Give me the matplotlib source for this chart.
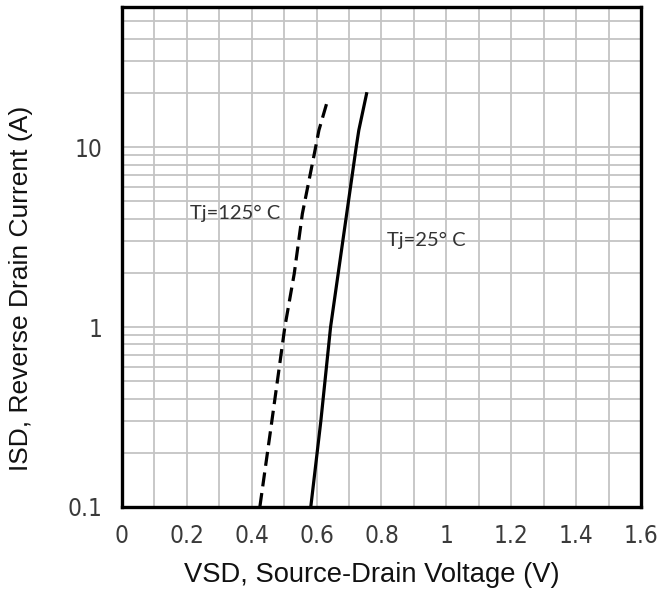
import matplotlib
matplotlib.use("Agg")
import matplotlib.pyplot as plt
from matplotlib.ticker import FixedLocator, LogLocator, NullFormatter

# Curve data
VSD_25C = [0.582, 0.613, 0.643, 0.681, 0.722, 0.730, 0.755]
ISD_25C = [0.1, 0.30, 1.0, 3.03, 10.0, 12.4, 20.2]

VSD_125C = [0.425, 0.462, 0.502, 0.531, 0.556, 0.597, 0.607, 0.633]
ISD_125C = [0.1, 0.30, 1.0, 1.98, 4.26, 10.0, 12.4, 18.0]

X_TICKS = [0, 0.2, 0.4, 0.6, 0.8, 1.0, 1.2, 1.4, 1.6]
X_TICK_LABELS = ["0", "0.2", "0.4", "0.6", "0.8", "1", "1.2", "1.4", "1.6"]
Y_TICKS = [0.1, 1, 10]
Y_TICK_LABELS = ["0.1", "1", "10"]

TICK_FONT = ["DejaVu Sans"]
LABEL_FONT = ["Liberation Sans", "DejaVu Sans"]
NOTE_FONT = ["Lato", "DejaVu Sans"]


def main():
    fig = plt.figure(figsize=(6.71, 5.95), dpi=100)
    ax = fig.add_axes([0.1818, 0.148, 0.7735, 0.840])

    ax.set_yscale("log")
    ax.set_xlim(0, 1.6)
    ax.set_ylim(0.1, 60)

    # grid: every 0.1 V and log minor lines
    ax.xaxis.set_major_locator(FixedLocator(X_TICKS))
    ax.xaxis.set_minor_locator(FixedLocator([i / 10 for i in range(1, 16, 2)]))
    ax.yaxis.set_major_locator(FixedLocator(Y_TICKS))
    ax.yaxis.set_minor_locator(LogLocator(base=10, subs=range(2, 10)))
    ax.yaxis.set_minor_formatter(NullFormatter())
    ax.grid(True, which="both", color="#c4c4c4", lw=1.3, zorder=0)
    ax.set_axisbelow(True)

    ax.set_xticklabels(X_TICK_LABELS)
    ax.set_yticklabels(Y_TICK_LABELS)
    ax.tick_params(which="both", length=0)
    ax.tick_params(axis="x", pad=12)
    ax.tick_params(axis="y", pad=14)
    for lbl in ax.get_xticklabels() + ax.get_yticklabels():
        lbl.set_fontfamily(TICK_FONT)
        lbl.set_fontstretch("condensed")
        lbl.set_fontsize(17.5)
        lbl.set_color("#3a3a3a")

    for sp in ax.spines.values():
        sp.set_linewidth(2.4)
        sp.set_color("black")

    ax.plot(VSD_25C, ISD_25C, color="black", lw=2.3, solid_capstyle="butt", zorder=3)
    ax.plot(VSD_125C, ISD_125C, color="black", lw=2.3, dashes=(4.4, 2.1), zorder=3)

    ax.text(0.21, 4.3, "Tj=125° C", fontsize=14.5, family=NOTE_FONT,
            color="#333333", va="center")
    ax.text(0.817, 3.04, "Tj=25° C", fontsize=14.5, family=NOTE_FONT,
            color="#333333", va="center")

    fig.text(0.554, 0.033, "VSD, Source-Drain Voltage (V)", fontsize=19.7,
             family=LABEL_FONT, ha="center", va="center", color="#111111")
    fig.text(0.032, 0.515, "ISD, Reverse Drain Current (A)", fontsize=19,
             family=LABEL_FONT, ha="center", va="center", rotation=90,
             color="#111111")

    fig.savefig("out.png", dpi=100)


if __name__ == "__main__":
    main()
